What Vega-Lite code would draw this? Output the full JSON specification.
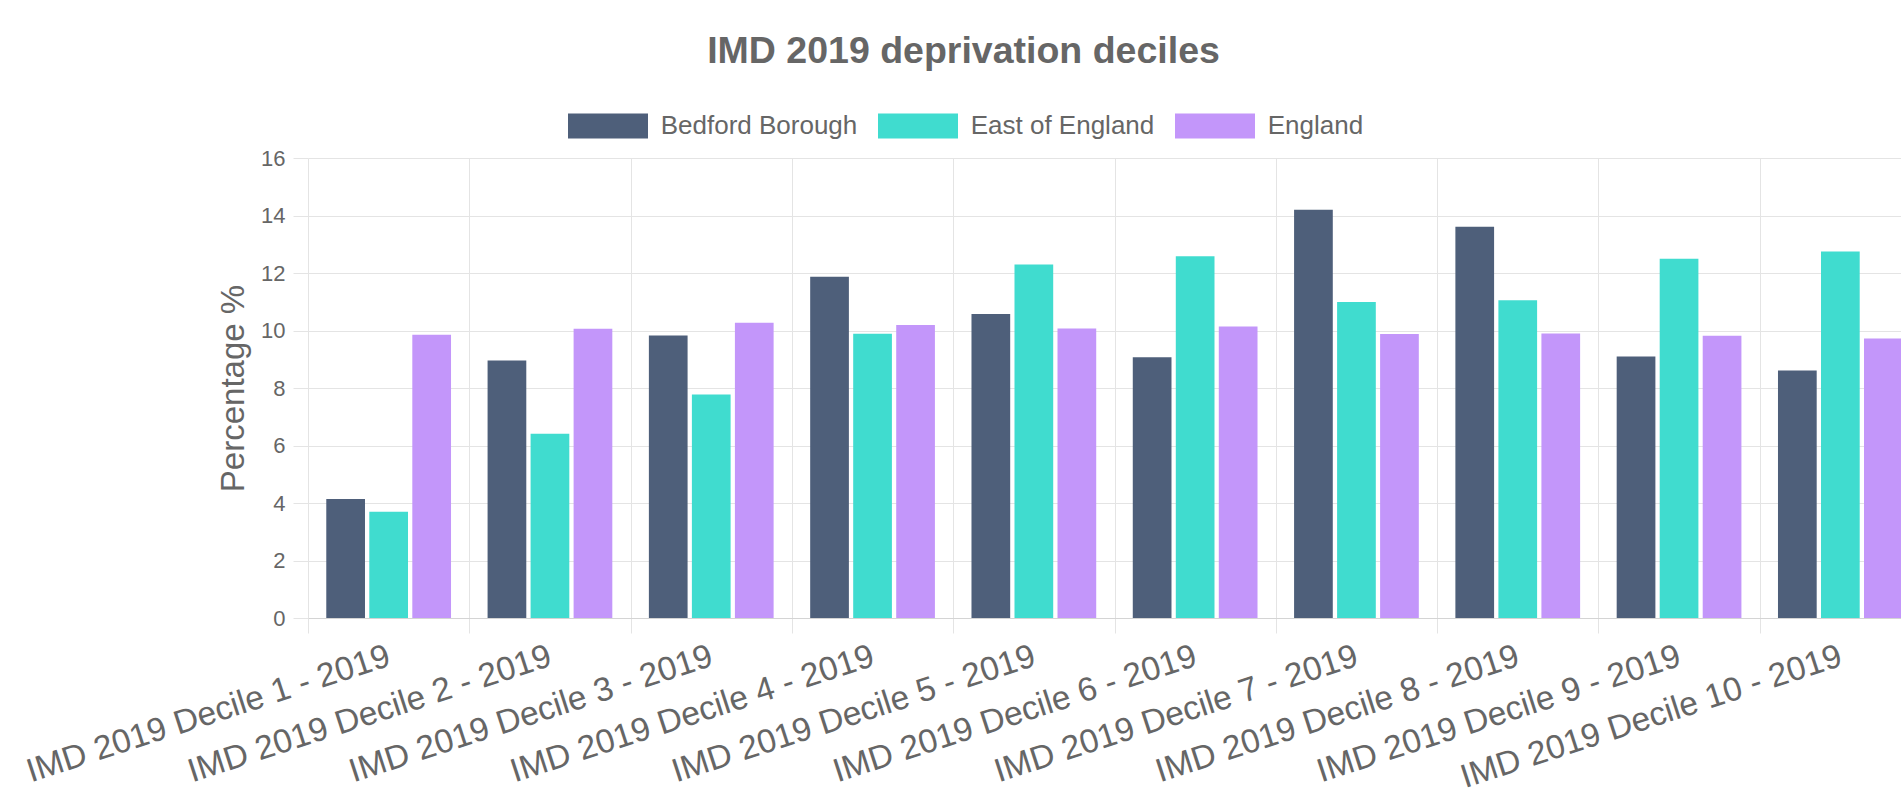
{
  "$schema": "https://vega.github.io/schema/vega-lite/v6.json",
  "width": 1593,
  "height": 460,
  "autosize": {"type": "none"},
  "padding": {"left": 308, "top": 158, "right": 0, "bottom": 188},
  "background": "white",
  "title": {
    "text": "IMD 2019 deprivation deciles",
    "fontSize": 37.5,
    "fontWeight": "bold",
    "color": "#666666",
    "font": "Liberation Sans",
    "anchor": "middle",
    "frame": "group",
    "baseline": "alphabetic",
    "offset": 0,
    "dx": -141,
    "dy": 14
  },
  "data": {
    "values": [
      {"decile": "IMD 2019 Decile 1 - 2019", "area": "Bedford Borough", "pct": 4.14},
      {"decile": "IMD 2019 Decile 1 - 2019", "area": "East of England", "pct": 3.70},
      {"decile": "IMD 2019 Decile 1 - 2019", "area": "England", "pct": 9.85},
      {"decile": "IMD 2019 Decile 2 - 2019", "area": "Bedford Borough", "pct": 8.96},
      {"decile": "IMD 2019 Decile 2 - 2019", "area": "East of England", "pct": 6.41},
      {"decile": "IMD 2019 Decile 2 - 2019", "area": "England", "pct": 10.06},
      {"decile": "IMD 2019 Decile 3 - 2019", "area": "Bedford Borough", "pct": 9.83},
      {"decile": "IMD 2019 Decile 3 - 2019", "area": "East of England", "pct": 7.77},
      {"decile": "IMD 2019 Decile 3 - 2019", "area": "England", "pct": 10.27},
      {"decile": "IMD 2019 Decile 4 - 2019", "area": "Bedford Borough", "pct": 11.87},
      {"decile": "IMD 2019 Decile 4 - 2019", "area": "East of England", "pct": 9.89},
      {"decile": "IMD 2019 Decile 4 - 2019", "area": "England", "pct": 10.19},
      {"decile": "IMD 2019 Decile 5 - 2019", "area": "Bedford Borough", "pct": 10.57},
      {"decile": "IMD 2019 Decile 5 - 2019", "area": "East of England", "pct": 12.30},
      {"decile": "IMD 2019 Decile 5 - 2019", "area": "England", "pct": 10.07},
      {"decile": "IMD 2019 Decile 6 - 2019", "area": "Bedford Borough", "pct": 9.07},
      {"decile": "IMD 2019 Decile 6 - 2019", "area": "East of England", "pct": 12.58},
      {"decile": "IMD 2019 Decile 6 - 2019", "area": "England", "pct": 10.14},
      {"decile": "IMD 2019 Decile 7 - 2019", "area": "Bedford Borough", "pct": 14.20},
      {"decile": "IMD 2019 Decile 7 - 2019", "area": "East of England", "pct": 10.99},
      {"decile": "IMD 2019 Decile 7 - 2019", "area": "England", "pct": 9.88},
      {"decile": "IMD 2019 Decile 8 - 2019", "area": "Bedford Borough", "pct": 13.61},
      {"decile": "IMD 2019 Decile 8 - 2019", "area": "East of England", "pct": 11.05},
      {"decile": "IMD 2019 Decile 8 - 2019", "area": "England", "pct": 9.90},
      {"decile": "IMD 2019 Decile 9 - 2019", "area": "Bedford Borough", "pct": 9.10},
      {"decile": "IMD 2019 Decile 9 - 2019", "area": "East of England", "pct": 12.50},
      {"decile": "IMD 2019 Decile 9 - 2019", "area": "England", "pct": 9.82},
      {"decile": "IMD 2019 Decile 10 - 2019", "area": "Bedford Borough", "pct": 8.61},
      {"decile": "IMD 2019 Decile 10 - 2019", "area": "East of England", "pct": 12.75},
      {"decile": "IMD 2019 Decile 10 - 2019", "area": "England", "pct": 9.72}
    ]
  },
  "mark": {"type": "bar"},
  "encoding": {
    "x": {
      "field": "decile",
      "type": "nominal",
      "sort": null,
      "scale": {"range": [0, 1613], "paddingInner": 0, "paddingOuter": 0},
      "axis": {
        "title": null,
        "labelAngle": -18,
        "labelAlign": "right",
        "labelBaseline": "middle",
        "labelFontSize": 33.5,
        "labelColor": "#666666",
        "labelFont": "Liberation Sans",
        "labelPadding": 22,
        "labelLimit": 0,
        "labelOverlap": false,
        "tickSize": 15,
        "tickColor": "#e4e4e4",
        "tickBand": "extent",
        "grid": true,
        "gridColor": "#e4e4e4",
        "domainColor": "#d4d4d4"
      }
    },
    "xOffset": {
      "field": "area",
      "type": "nominal",
      "sort": ["Bedford Borough", "East of England", "England"],
      "scale": {"paddingInner": 0.1, "paddingOuter": 0.425}
    },
    "y": {
      "field": "pct",
      "type": "quantitative",
      "scale": {"domain": [0, 16]},
      "axis": {
        "title": "Percentage %",
        "titleFontSize": 33,
        "titleFontWeight": "normal",
        "titleColor": "#666666",
        "titleFont": "Liberation Sans",
        "titlePadding": 10,
        "values": [0, 2, 4, 6, 8, 10, 12, 14, 16],
        "labelFontSize": 22,
        "labelColor": "#666666",
        "labelFont": "Liberation Sans",
        "labelPadding": 8,
        "tickSize": 15,
        "tickColor": "#e4e4e4",
        "grid": true,
        "gridColor": "#e4e4e4",
        "domain": false
      }
    },
    "color": {
      "field": "area",
      "type": "nominal",
      "scale": {
        "domain": ["Bedford Borough", "East of England", "England"],
        "range": ["#4e5f7a", "#40dccf", "#c396fa"]
      },
      "legend": {
        "title": null,
        "orient": "none",
        "direction": "horizontal",
        "legendX": 260,
        "legendY": -72,
        "padding": 0,
        "symbolType": "M-1,-0.3125H1V0.3125H-1Z",
        "symbolSize": 6400,
        "symbolStrokeWidth": 0,
        "symbolOpacity": 1,
        "labelFontSize": 26,
        "labelColor": "#666666",
        "labelFont": "Liberation Sans",
        "labelOffset": 12.7,
        "columnPadding": 20,
        "labelLimit": 0
      }
    }
  },
  "config": {
    "view": {"stroke": null},
    "font": "Liberation Sans"
  }
}
